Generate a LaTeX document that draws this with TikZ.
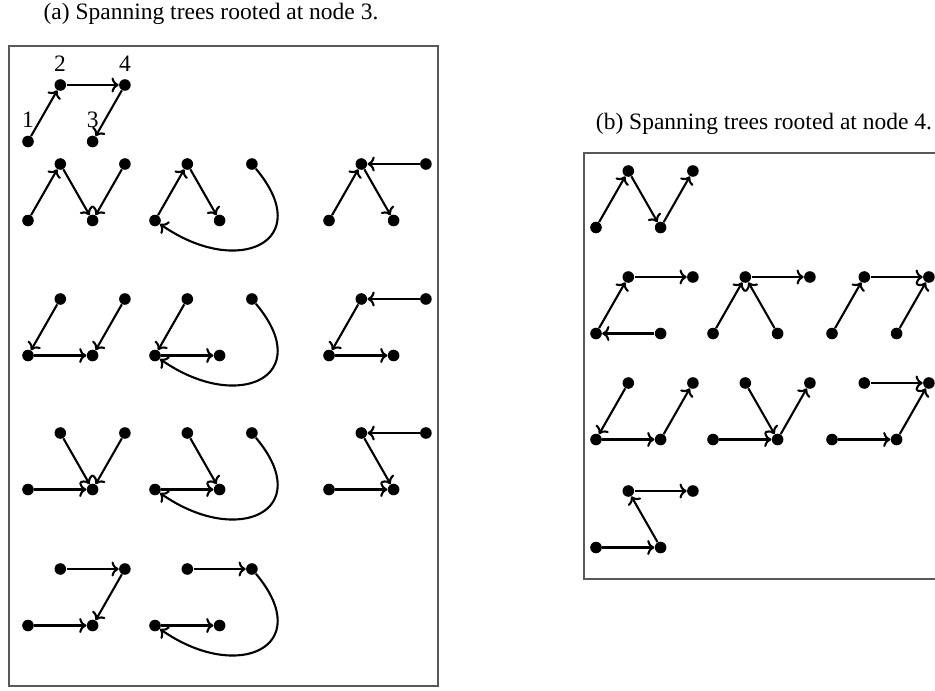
\documentclass[tikz,border=0pt]{standalone}
\usepackage{fontspec}
\setmainfont{Liberation Serif}
\usetikzlibrary{arrows.meta}
\tikzset{
  dot/.style={circle,fill=black,inner sep=0pt,minimum size=5.8pt},
  edge/.style={-{To[length=3.6pt,width=7.5pt]},line width=1.05pt},
  curved/.style={edge,out=-50,in=-35,looseness=2.2},
  frame/.style={draw=black!65,line width=0.8pt},
  lbl/.style={anchor=base,inner sep=0pt,font=\fontsize{11.75}{14}\selectfont},
}
\newcommand\mkgraph[3]{%
  \node[dot] (#1-1) at ({#2},{#3+56.5}) {};
  \node[dot] (#1-2) at ({#2+32.3},{#3}) {};
  \node[dot] (#1-3) at ({#2+64.6},{#3+56.5}) {};
  \node[dot] (#1-4) at ({#2+96.9},{#3}) {};
}
\begin{document}
\begin{tikzpicture}[x=0.5pt,y=-0.5pt]
\useasboundingbox (0,0) rectangle (935,690);
% titles
\node[lbl] (ta) at (211,20) {(a) Spanning trees rooted at node 3.};
\node[lbl] (tb) at (764,129) {(b) Spanning trees rooted at node 4.};
% frames
\draw[frame] (9,46) rectangle (438,686);
\draw[frame] (584,153) rectangle (945,579);
% ---------- panel (a)
\mkgraph{T}{28}{85}
\node[lbl] (L1) at (28,127) {1};
\node[lbl] (L2) at (60,72) {2};
\node[lbl] (L3) at (92.7,127) {3};
\node[lbl] (L4) at (125,72) {4};
\draw[edge] (T-1) -- (T-2);
\draw[edge] (T-2) -- (T-4);
\draw[edge] (T-4) -- (T-3);
% row 1
\mkgraph{A11}{28}{164}
\mkgraph{A12}{155}{164}
\mkgraph{A13}{329}{164}
\draw[edge] (A11-1) -- (A11-2);
\draw[edge] (A11-2) -- (A11-3);
\draw[edge] (A11-4) -- (A11-3);
\draw[edge] (A12-1) -- (A12-2);
\draw[edge] (A12-2) -- (A12-3);
\draw[curved] (A12-4) to (A12-1);
\draw[edge] (A13-1) -- (A13-2);
\draw[edge] (A13-2) -- (A13-3);
\draw[edge] (A13-4) -- (A13-2);
% row 2
\mkgraph{A21}{28}{299}
\mkgraph{A22}{155}{299}
\mkgraph{A23}{329}{299}
\draw[edge] (A21-2) -- (A21-1);
\draw[edge] (A21-1) -- (A21-3);
\draw[edge] (A21-4) -- (A21-3);
\draw[edge] (A22-2) -- (A22-1);
\draw[edge] (A22-1) -- (A22-3);
\draw[curved] (A22-4) to (A22-1);
\draw[edge] (A23-2) -- (A23-1);
\draw[edge] (A23-1) -- (A23-3);
\draw[edge] (A23-4) -- (A23-2);
% row 3
\mkgraph{A31}{28}{433}
\mkgraph{A32}{155}{433}
\mkgraph{A33}{329}{433}
\draw[edge] (A31-1) -- (A31-3);
\draw[edge] (A31-2) -- (A31-3);
\draw[edge] (A31-4) -- (A31-3);
\draw[edge] (A32-1) -- (A32-3);
\draw[edge] (A32-2) -- (A32-3);
\draw[curved] (A32-4) to (A32-1);
\draw[edge] (A33-1) -- (A33-3);
\draw[edge] (A33-2) -- (A33-3);
\draw[edge] (A33-4) -- (A33-2);
% row 4
\mkgraph{A41}{28}{569}
\mkgraph{A42}{155}{569}
\draw[edge] (A41-2) -- (A41-4);
\draw[edge] (A41-1) -- (A41-3);
\draw[edge] (A41-4) -- (A41-3);
\draw[edge] (A42-2) -- (A42-4);
\draw[edge] (A42-1) -- (A42-3);
\draw[curved] (A42-4) to (A42-1);
% ---------- panel (b)
\mkgraph{B11}{596}{171}
\draw[edge] (B11-1) -- (B11-2);
\draw[edge] (B11-2) -- (B11-3);
\draw[edge] (B11-3) -- (B11-4);
% row 2
\mkgraph{B21}{596}{277}
\mkgraph{B22}{713}{277}
\mkgraph{B23}{832}{277}
\draw[edge] (B21-1) -- (B21-2);
\draw[edge] (B21-2) -- (B21-4);
\draw[edge] (B21-3) -- (B21-1);
\draw[edge] (B22-1) -- (B22-2);
\draw[edge] (B22-2) -- (B22-4);
\draw[edge] (B22-3) -- (B22-2);
\draw[edge] (B23-1) -- (B23-2);
\draw[edge] (B23-2) -- (B23-4);
\draw[edge] (B23-3) -- (B23-4);
% row 3
\mkgraph{B31}{596}{383}
\mkgraph{B32}{713}{383}
\mkgraph{B33}{832}{383}
\draw[edge] (B31-2) -- (B31-1);
\draw[edge] (B31-1) -- (B31-3);
\draw[edge] (B31-3) -- (B31-4);
\draw[edge] (B32-1) -- (B32-3);
\draw[edge] (B32-2) -- (B32-3);
\draw[edge] (B32-3) -- (B32-4);
\draw[edge] (B33-2) -- (B33-4);
\draw[edge] (B33-1) -- (B33-3);
\draw[edge] (B33-3) -- (B33-4);
% row 4
\mkgraph{B41}{596}{491}
\draw[edge] (B41-2) -- (B41-4);
\draw[edge] (B41-1) -- (B41-3);
\draw[edge] (B41-3) -- (B41-2);
\end{tikzpicture}
\end{document}
